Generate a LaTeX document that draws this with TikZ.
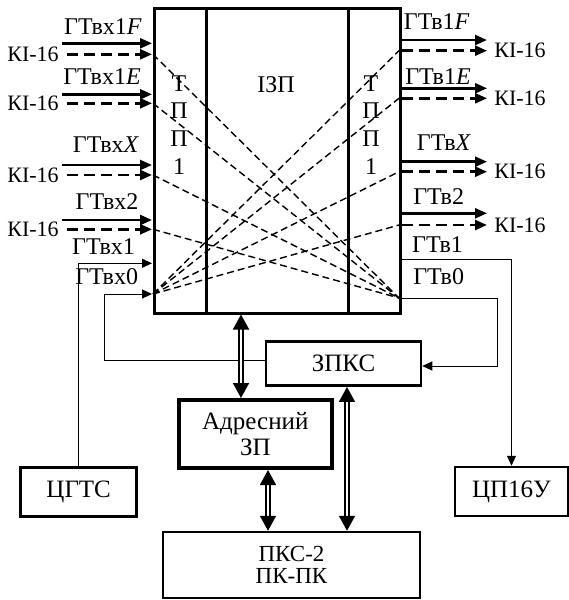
\documentclass[tikz,border=0pt]{standalone}
\usepackage{fontspec}
\setmainfont{Liberation Serif}
\usetikzlibrary{arrows.meta,calc}
\begin{document}
\begin{tikzpicture}[x=1pt,y=-1pt,
  lbl/.style={font=\fontsize{24}{28}\selectfont, inner sep=0pt},
  klbl/.style={font=\fontsize{22}{26}\selectfont, inner sep=0pt},
  coltext/.style={font=\fontsize{24}{27.8}\selectfont, inner sep=0pt, align=center},
  col/.style={draw, line width=2.5pt, minimum height=305pt, anchor=north west, inner sep=0pt},
  box/.style={draw, line width=2.5pt, inner sep=0pt, align=center, font=\fontsize{25}{27}\selectfont},
  sig/.style={line width=2.5pt, -{Triangle[length=12pt,width=10pt]}},
  sigd/.style={sig, dash pattern=on 11pt off 6pt},
  cross/.style={line width=1.4pt, dash pattern=on 7pt off 4pt},
  thinarr/.style={line width=1pt, -{Triangle[length=10pt,width=9pt]}},
  bus/.style={line width=1.8pt, double distance=2.2pt, {Triangle[length=15pt,width=16pt]}-{Triangle[length=15pt,width=16pt]}},
]
\useasboundingbox (0,0) rectangle (569,600);

% main block
\node[col, minimum width=52pt] (tppL) at (153,7) {};
\node[col, minimum width=142pt] (izp) at (205,7) {};
\node[col, minimum width=52pt] (tppR) at (347,7) {};
\node[coltext] (tL) at (179,125) {Т\\П\\П\\1};
\node[coltext] (tR) at (371,125) {Т\\П\\П\\1};
\node[lbl] (izpt) at (276,85) {ІЗП};

% left inputs
\foreach \n/\ys/\yd in {1/43.3/54.3, 2/94.3/103.3, 3/165/175, 4/220/229.3} {
  \coordinate (ls\n) at (62,\ys); \coordinate (le\n) at (152,\ys);
  \coordinate (lds\n) at (67,\yd); \coordinate (lde\n) at (152,\yd);
  \coordinate (lx\n) at (153,\yd);
  \draw[sig] (ls\n) -- (le\n);
  \draw[sigd] (lds\n) -- (lde\n);
  \node[klbl] (lk\n) at (33,\yd) {КІ-16};
}
% right outputs
\foreach \n/\ys/\yd in {1/40/50.7, 2/88.3/98.3, 3/161.7/171.7, 4/213.3/225} {
  \coordinate (rs\n) at (400,\ys); \coordinate (re\n) at (487,\ys);
  \coordinate (rds\n) at (402,\yd); \coordinate (rde\n) at (487,\yd);
  \coordinate (rx\n) at (399,\yd);
  \draw[sig] (rs\n) -- (re\n);
  \draw[sigd] (rds\n) -- (rde\n);
  \node[klbl] (rk\n) at (520,\yd) {КІ-16};
}

% labels
\node[lbl] (lF) at (103,27) {ГТвх1\textit{F}};
\node[lbl] (lE) at (102,77) {ГТвх1\textit{E}};
\node[lbl] (lX) at (106,145) {ГТвх\textit{X}};
\node[lbl] (l2) at (107,201.7) {ГТвх2};
\node[lbl] (l1) at (103.5,246.7) {ГТвх1};
\node[lbl] (l0) at (106.7,276.7) {ГТвх0};
\node[lbl] (rF) at (436.7,21.7) {ГТв1\textit{F}};
\node[lbl] (rE) at (438,76.7) {ГТв1\textit{E}};
\node[lbl] (rX) at (444,143) {ГТв\textit{X}};
\node[lbl] (r2) at (438.7,196.7) {ГТв2};
\node[lbl] (r1) at (437.5,245) {ГТв1};
\node[lbl] (r0) at (438.7,276.7) {ГТв0};

% crossing dashed lines
\coordinate (convL) at (153,294);
\coordinate (convR) at (399,298);
\foreach \n in {1,...,4} {
  \draw[cross] (lx\n) -- (convR);
  \draw[cross] (convL) -- (rx\n);
}

% lower boxes
\node[box, minimum width=155pt, minimum height=44pt] (zpks) at (343.5,363.7) {ЗПКС};
\node[box, line width=4pt, minimum width=153.5pt, minimum height=68pt, font=\fontsize{25}{26.7}\selectfont] (adr) at (255.3,434) {Адресний\\ЗП};
\node[box, line width=3pt, minimum width=116pt, minimum height=49pt] (cgts) at (78.7,491.5) {ЦГТС};
\node[box, minimum width=113pt, minimum height=49pt] (cp) at (511.5,491.5) {ЦП16У};
\node[box, minimum width=257pt, minimum height=66pt, font=\fontsize{23}{22}\selectfont] (pks) at (291.5,565) {ПКС-2\\ПК-ПК};

% thin connections
\coordinate (gin0) at (152,294);
\coordinate (gin1) at (152,263.3);
\coordinate (k0) at (104,360);
\draw[thinarr] (zpks.west |- k0) -- (k0) |- (gin0);
\draw[thinarr] (cgts.north) |- (gin1);
\coordinate (gout1) at (400,259.3);
\coordinate (gout0) at (400,298);
\coordinate (k1) at (497.5,366);
\draw[thinarr] (gout1) -| (cp.north);
\draw[thinarr] (gout0) -| (k1) -- (zpks.east |- k1);

% buses
\coordinate (bx1) at (241,0);
\coordinate (bx2) at (268,0);
\coordinate (bx3) at (347,0);
\draw[bus] (izp.south -| bx1) -- (adr.north -| bx1);
\draw[bus] (adr.south -| bx2) -- (pks.north -| bx2);
\draw[bus] (zpks.south -| bx3) -- (pks.north -| bx3);
\end{tikzpicture}
\end{document}
